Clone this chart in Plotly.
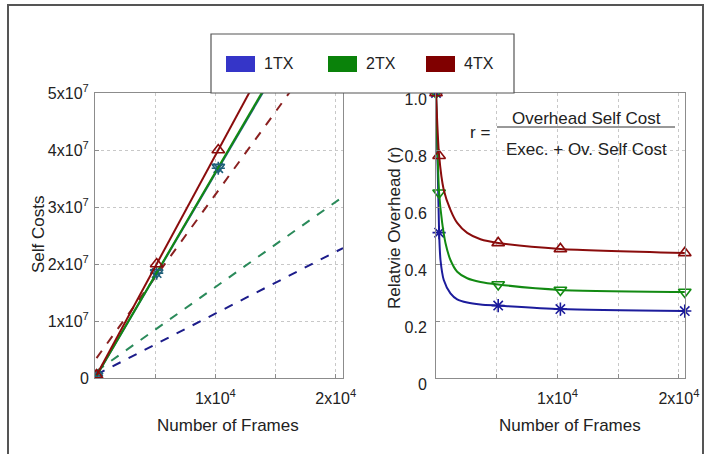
import plotly.graph_objects as go

W, H = 710, 454

# ---------------- data ----------------
series_names = ["1TX", "2TX", "4TX"]
legend_colors = ["#3535c8", "#0a820a", "#800000"]
line_colors = ["#1c1c9c", "#128a12", "#8a0c0c"]
dash_colors = ["#1c1c8a", "#2a8a5a", "#8a2020"]
markers = ["asterisk-open", "triangle-down-open", "triangle-up-open"]

# left panel: measured self costs (solid) and dashed reference lines
cost_frames = [128, 5120, 10240, 20480]
cost_1tx = [0.4e6, 1.84e7, 3.68e7, 7.36e7]
cost_2tx = [0.4e6, 1.85e7, 3.7e7, 7.4e7]
cost_4tx = [0.5e6, 2.0e7, 4.0e7, 8.0e7]
cost_series = [cost_1tx, cost_2tx, cost_4tx]

dash_frames = [128, 20600]
dash_1tx = [0.6e6, 2.28e7]
dash_2tx = [1.2e6, 3.18e7]
dash_4tx = [3.5e6, 6.3e7]
dash_series = [dash_1tx, dash_2tx, dash_4tx]

# right panel: relative overhead, markers
r_frames = [1, 256, 5120, 10240, 20480]
r_1tx = [1.0, 0.51, 0.254, 0.242, 0.235]
r_2tx = [1.0, 0.65, 0.328, 0.309, 0.302]
r_4tx = [1.0, 0.78, 0.474, 0.453, 0.439]
r_series = [r_1tx, r_2tx, r_4tx]

# right panel: fitted curves
curve_x_1tx = [1, 256, 370, 640, 1190, 1745, 2570, 3660, 5120, 10240, 20480]
curve_y_1tx = [1.0, 0.51, 0.414, 0.344, 0.297, 0.276, 0.265, 0.258, 0.254, 0.242, 0.235]
curve_x_2tx = [1, 256, 510, 780, 1190, 1745, 2570, 3660, 5120, 10240, 20480]
curve_y_2tx = [1.0, 0.65, 0.544, 0.474, 0.414, 0.373, 0.350, 0.337, 0.328, 0.309, 0.302]
curve_x_4tx = [1, 256, 640, 1190, 1745, 2570, 3660, 5120, 10240, 20480]
curve_y_4tx = [1.0, 0.78, 0.66, 0.59, 0.544, 0.509, 0.487, 0.474, 0.453, 0.439]
curve_x = [curve_x_1tx, curve_x_2tx, curve_x_4tx]
curve_y = [curve_y_1tx, curve_y_2tx, curve_y_4tx]

x_tickvals = [0, 5000, 10000, 15000, 20000]
x_ticktext = ["", "", "1x10<sup>4</sup>", "", "2x10<sup>4</sup>"]
y1_tickvals = [0, 1e7, 2e7, 3e7, 4e7, 5e7]
y1_ticktext = ["0", "1x10<sup>7</sup>", "2x10<sup>7</sup>", "3x10<sup>7</sup>",
               "4x10<sup>7</sup>", "5x10<sup>7</sup>"]
y2_tickvals = [0, 0.2, 0.4, 0.6, 0.8, 1.0]
y2_ticktext = ["0", "0.2", "0.4", "0.6", "0.8", "1.0"]

FONT = "Liberation Sans, Arial, sans-serif"

def px(x):
    return x / W

def py(y):
    return 1 - y / H

fig = go.Figure()

# left panel
for i in range(3):
    fig.add_trace(go.Scatter(x=dash_frames, y=dash_series[i], mode="lines",
                             line=dict(color=dash_colors[i], width=2, dash="dash"),
                             xaxis="x", yaxis="y", showlegend=False))
for i in range(3):
    fig.add_trace(go.Scatter(x=cost_frames, y=cost_series[i], mode="lines+markers",
                             line=dict(color=line_colors[i] if i != 0 else "#1f5f7a", width=2),
                             marker=dict(symbol=markers[i], size=11,
                                         color=line_colors[i] if i == 2 else "#1f5f7a",
                                         line=dict(width=1.6)),
                             cliponaxis=True,
                             xaxis="x", yaxis="y", showlegend=False))

# right panel
for i in range(3):
    fig.add_trace(go.Scatter(x=curve_x[i], y=curve_y[i], mode="lines",
                             line=dict(color=line_colors[i], width=2, shape="spline", smoothing=0.7),
                             xaxis="x2", yaxis="y2", showlegend=False))
    fig.add_trace(go.Scatter(x=r_frames, y=r_series[i], mode="markers",
                             marker=dict(symbol=markers[i], size=11, color=line_colors[i],
                                         line=dict(width=1.6)),
                             cliponaxis=False,
                             xaxis="x2", yaxis="y2", showlegend=False))

axis_common = dict(showline=True, linecolor="#8c8c8c", linewidth=1, mirror=True,
                   showgrid=True, gridcolor="#c8c8c8", griddash="dot", gridwidth=1,
                   zeroline=False, ticks="inside", ticklen=4, tickcolor="#8c8c8c",
                   automargin=False,
                   tickfont=dict(family=FONT, size=16, color="#222"))

fig.update_layout(
    width=W, height=H,
    margin=dict(l=0, r=0, t=0, b=0, pad=0),
    paper_bgcolor="white", plot_bgcolor="white",
    font=dict(family=FONT, color="#222"),
    xaxis=dict(domain=[px(95), px(343)], range=[0, 20600], tickvals=x_tickvals,
               ticktext=x_ticktext, anchor="y", ticklabelstandoff=6, **axis_common),
    yaxis=dict(domain=[py(378), py(93)], range=[0, 5e7], tickvals=y1_tickvals,
               ticktext=y1_ticktext, anchor="x", ticklabelstandoff=2, **axis_common),
    xaxis2=dict(domain=[px(436), px(685)], range=[0, 20500], tickvals=x_tickvals,
                ticktext=x_ticktext, anchor="y2", ticklabelstandoff=6, **axis_common),
    yaxis2=dict(domain=[py(378), py(93)], range=[0, 1.0], tickvals=y2_tickvals,
                ticktext=y2_ticktext, anchor="x2", ticklabelstandoff=5,
                ticklabelshift=6, **axis_common),
)

shapes = []
annotations = []

def label(x, y, text, size=17, angle=0, xanchor="center"):
    annotations.append(dict(x=px(x), y=py(y), xref="paper", yref="paper",
                            text=text, showarrow=False, textangle=angle,
                            xanchor=xanchor, yanchor="middle",
                            font=dict(family=FONT, size=size, color="#222")))

# outer frame
shapes.append(dict(type="rect", xref="paper", yref="paper",
                   x0=px(8), x1=px(703), y0=-0.05, y1=py(5),
                   line=dict(color="#555", width=2)))

# legend box
shapes.append(dict(type="rect", xref="paper", yref="paper",
                   x0=px(211), x1=px(514), y0=py(93), y1=py(34),
                   line=dict(color="#555", width=1.2), fillcolor="white"))
leg_rect_x = [226, 328, 426]
for i in range(3):
    shapes.append(dict(type="rect", xref="paper", yref="paper",
                       x0=px(leg_rect_x[i]), x1=px(leg_rect_x[i] + 29),
                       y0=py(72), y1=py(56),
                       line=dict(width=0), fillcolor=legend_colors[i]))
    label(leg_rect_x[i] + 36, 64, series_names[i], size=16, xanchor="left")

# axis titles
label(228, 425, "Number of Frames")
label(570, 425, "Number of Frames")
label(38, 235, "Self Costs", angle=-90)
label(394, 228, "Relatvie Overhead (r)", angle=-90)

# formula
label(480, 132, "r =")
label(586, 118, "Overhead Self Cost")
label(586, 149, "Exec. + Ov. Self Cost")
shapes.append(dict(type="line", xref="paper", yref="paper",
                   x0=px(497), x1=px(675), y0=py(127), y1=py(127),
                   line=dict(color="#333", width=1)))

fig.update_layout(shapes=shapes, annotations=annotations)

fig.write_html("out.html")
